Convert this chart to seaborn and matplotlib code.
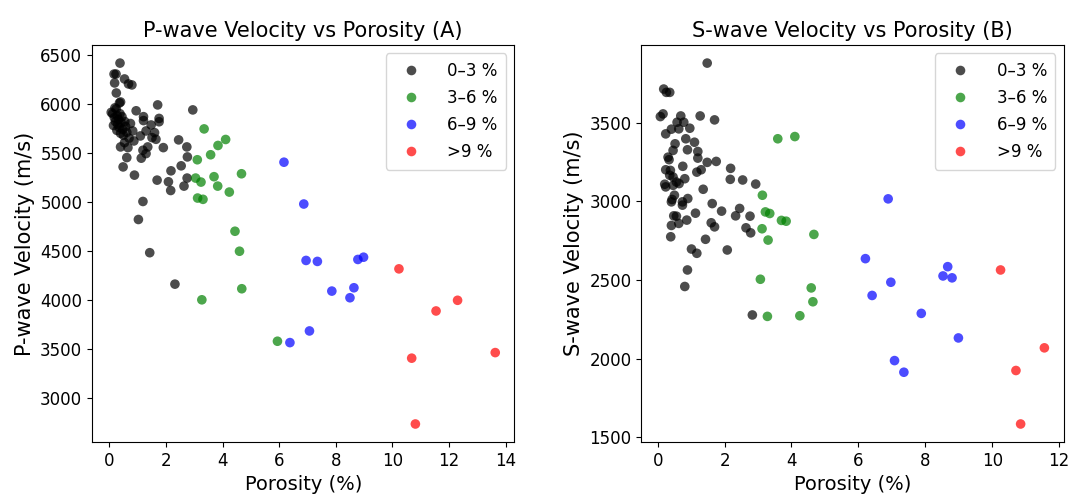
import numpy as np
import pandas as pd
import seaborn as sns
from matplotlib import pyplot as plt

groups = ['0–3 %', '3–6 %', '6–9 %', '>9 %']
colors = {'0–3 %': 'black', '3–6 %': 'green', '6–9 %': 'blue', '>9 %': 'red'}

# ---- Panel A: P-wave velocity vs porosity ----
pA_por_0_3 = [0.38, 0.17, 0.24, 0.54, 0.19, 0.68, 0.80, 0.25, 0.36, 0.40, 1.71, 2.95,
              0.07, 0.95, 1.21, 1.21, 1.76, 1.76, 1.48, 1.30, 1.60, 1.51, 1.65, 1.10,
              0.83, 0.87, 0.54, 0.40, 0.66, 2.45, 2.74, 1.91, 1.36, 1.19, 1.30, 0.62,
              1.13, 2.76, 0.49, 2.54, 2.18, 0.89, 1.69, 2.09, 2.75, 2.64, 2.17, 1.19,
              1.03, 1.43, 2.32,
              0.12, 0.18, 0.22, 0.25, 0.28, 0.30, 0.33, 0.35, 0.38, 0.40, 0.42, 0.45,
              0.48, 0.50, 0.55, 0.58, 0.62, 0.15, 0.27, 0.70, 0.75, 0.20]
pA_vel_0_3 = [6417, 6305, 6305, 6255, 6214, 6204, 6194, 6112, 6010, 6020, 5990, 5939,
              5914, 5930, 5870, 5830, 5852, 5818, 5785, 5724, 5707, 5656, 5639, 5673,
              5724, 5622, 5605, 5561, 5554, 5633, 5561, 5554, 5561, 5527, 5493, 5452,
              5446, 5459, 5357, 5368, 5317, 5273, 5222, 5205, 5243, 5161, 5116, 5004,
              4820, 4481, 4160,
              5900, 5860, 5820, 5950, 5880, 5790, 5840, 5760, 5900, 5700, 5810, 5870,
              5740, 5680, 5820, 5770, 5710, 5780, 5730, 5650, 5800, 5960]
pA_por_3_6 = [3.35, 4.11, 3.84, 3.58, 3.11, 4.67, 3.70, 3.05, 3.24, 3.83, 4.24, 3.12,
              3.31, 4.44, 4.60, 4.68, 5.94, 3.27]
pA_vel_3_6 = [5745, 5637, 5576, 5481, 5430, 5287, 5257, 5243, 5202, 5161, 5100, 5039,
              5026, 4700, 4496, 4113, 3577, 4000]
pA_por_6_9 = [6.17, 6.87, 6.95, 7.35, 8.78, 8.98, 7.86, 8.64, 8.50, 7.07, 6.38]
pA_vel_6_9 = [5405, 4978, 4402, 4392, 4412, 4435, 4089, 4123, 4021, 3682, 3563]
pA_por_9 = [10.23, 11.54, 12.30, 10.68, 13.63, 10.81]
pA_vel_9 = [4316, 3886, 3995, 3404, 3461, 2732]

# ---- Panel B: S-wave velocity vs porosity ----
pB_por_0_3 = [1.48, 0.18, 0.26, 0.36, 0.08, 0.16, 0.69, 1.27, 1.70, 0.58, 0.78, 0.41,
              0.63, 0.96, 0.24, 0.84, 1.10, 0.52, 0.89, 0.46, 1.20, 1.20, 0.31, 0.34,
              1.48, 1.75, 0.75, 0.24, 0.38, 1.17, 1.30, 2.18, 0.36, 0.46, 2.17, 2.54,
              2.93, 0.21, 0.24, 0.56, 0.64, 0.81, 0.46, 1.36, 0.50, 0.90, 0.41, 0.43,
              0.74, 0.74, 1.63, 1.91, 2.45, 2.33, 2.76, 1.13, 0.48, 0.56, 0.87, 0.63,
              0.41, 1.60, 1.70, 2.64, 2.78, 0.39, 1.43, 1.01, 1.17, 2.08, 0.89, 0.81,
              2.83]
pB_vel_0_3 = [3878, 3713, 3692, 3692, 3538, 3555, 3542, 3542, 3517, 3502, 3502, 3458,
              3460, 3464, 3428, 3397, 3375, 3365, 3327, 3323, 3316, 3274, 3280, 3264,
              3247, 3253, 3222, 3200, 3196, 3185, 3200, 3209, 3165, 3154, 3139, 3135,
              3109, 3108, 3091, 3122, 3112, 3143, 3101, 3076, 3038, 3017, 2996, 3011,
              2996, 2975, 2985, 2937, 2954, 2907, 2905, 2924, 2907, 2905, 2880, 2859,
              2846, 2863, 2837, 2831, 2799, 2774, 2758, 2696, 2669, 2690, 2563, 2458,
              2277]
pB_por_3_6 = [3.59, 4.10, 3.13, 3.22, 3.35, 3.70, 3.84, 3.12, 3.30, 4.67, 3.07, 4.59,
              4.64, 3.28, 4.25]
pB_vel_3_6 = [3397, 3411, 3038, 2932, 2922, 2878, 2873, 2825, 2753, 2789, 2504, 2449,
              2361, 2268, 2272]
pB_por_6_9 = [6.89, 6.21, 8.67, 8.53, 8.80, 6.97, 6.41, 7.88, 8.99, 7.08, 7.36]
pB_vel_6_9 = [3015, 2635, 2584, 2525, 2513, 2485, 2401, 2287, 2131, 1987, 1913]
pB_por_9 = [10.25, 11.56, 10.71, 10.85]
pB_vel_9 = [2563, 2068, 1924, 1584]


def make_df(pors, vels):
    frames = []
    for g, p, v in zip(groups, pors, vels):
        frames.append(pd.DataFrame({'porosity': p, 'velocity': v, 'group': g}))
    return pd.concat(frames, ignore_index=True)


dfA = make_df([pA_por_0_3, pA_por_3_6, pA_por_6_9, pA_por_9],
              [pA_vel_0_3, pA_vel_3_6, pA_vel_6_9, pA_vel_9])
dfB = make_df([pB_por_0_3, pB_por_3_6, pB_por_6_9, pB_por_9],
              [pB_vel_0_3, pB_vel_3_6, pB_vel_6_9, pB_vel_9])

fig, axes = plt.subplots(1, 2, figsize=(10.7, 4.95), dpi=100)
plt.subplots_adjust(left=0.086, right=0.994, top=0.909, bottom=0.107, wspace=0.30)

panels = [
    (axes[0], dfA, 'P-wave Velocity vs Porosity (A)', 'P-wave Velocity (m/s)'),
    (axes[1], dfB, 'S-wave Velocity vs Porosity (B)', 'S-wave Velocity (m/s)'),
]
for ax, df, title, ylabel in panels:
    sns.scatterplot(data=df, x='porosity', y='velocity', hue='group',
                    hue_order=groups, palette=colors, alpha=0.7, s=48,
                    linewidth=0, ax=ax)
    ax.set_title(title, fontsize=15)
    ax.set_xlabel('Porosity (%)', fontsize=14)
    ax.set_ylabel(ylabel, fontsize=15)
    ax.tick_params(labelsize=12)
    sns.move_legend(ax, 'upper right', title=None, fontsize=12,
                    labelspacing=0.55, handletextpad=1.2, borderpad=0.5)

plt.savefig('out.png', dpi=100)
